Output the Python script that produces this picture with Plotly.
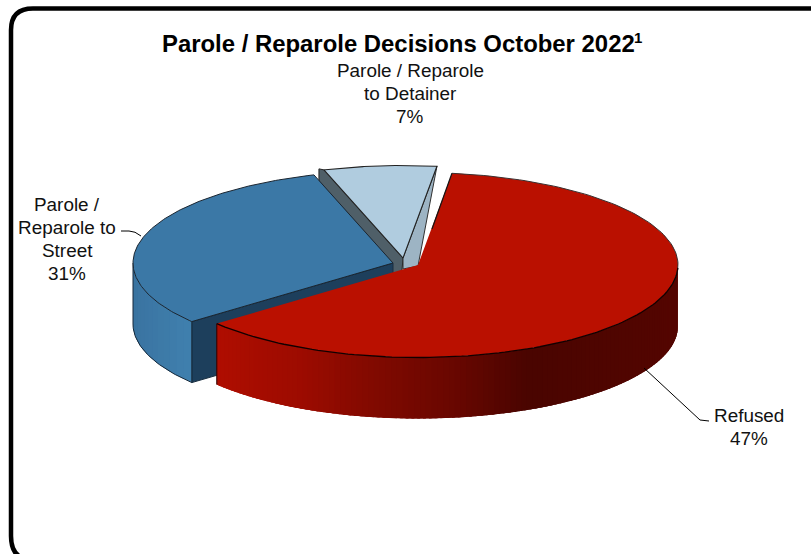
import numpy as np
import plotly.graph_objects as go

# ---- data ----
categories = ["Refused", "Parole / Reparole to Street", "Parole / Reparole to Detainer"]
slice_shares = [62, 31, 7]          # drawn share of the pie
label_percents = [47, 31, 7]        # printed percentage
TITLE = "Parole / Reparole Decisions October 2022"
FOOTNOTE_MARK = "1"

# ---- pie geometry ----
W, H = 811, 554
START = 7.5
AX, BY, DEPTH = 260, 92.5, 61
APEX = [(418, 265), (393, 263), (403, 258)]
FACE = ["#BA1000", "#3B78A6", "#B0CCDF"]
FONT = "Liberation Sans, Arial, sans-serif"

shares = np.array(slice_shares, dtype=float)
edges = START + np.concatenate([[0], np.cumsum(shares)]) / shares.sum() * 360


def rim(i, deg):
    t = np.radians(deg)
    return APEX[i][0] + AX * np.sin(t), APEX[i][1] - BY * np.cos(t)


def lerp_color(x, stops):
    xs = [s[0] for s in stops]
    c = [np.interp(x, xs, [s[1][k] for s in stops]) for k in range(3)]
    return "rgb(%d,%d,%d)" % tuple(int(v) for v in c)


fig = go.Figure()


def poly(xs, ys, fill, line=None, width=1):
    fig.add_trace(go.Scatter(
        x=list(xs), y=list(ys), mode="lines", fill="toself", fillcolor=fill,
        line=dict(color=line or fill, width=width if line else 0),
        hoverinfo="skip", showlegend=False))


def stroke(xs, ys, color="#151515", width=1.1):
    fig.add_trace(go.Scatter(x=list(xs), y=list(ys), mode="lines",
                             line=dict(color=color, width=width),
                             hoverinfo="skip", showlegend=False))


def side(i, a, b, stops, n):
    # strips painted from a to b (a<b), each running on under the next to hide seams
    ds = np.linspace(a, b, n + 1)
    step = ds[1] - ds[0]
    for d0 in ds[:-1]:
        sub = np.linspace(d0, min(d0 + 2.5 * step, b), 6)
        x, y = rim(i, sub)
        poly(np.r_[x, x[::-1], x[0]], np.r_[y, y[::-1] + DEPTH, y[0]],
             lerp_color(x[0], stops))


def face_xy(i, a, b):
    x, y = rim(i, np.linspace(a, b, 160))
    ax, ay = APEX[i]
    return np.r_[ax, x, ax], np.r_[ay, y, ay]


# --- light slice (back) ---
lx, ly = rim(2, edges[2])
rx, ry = rim(2, edges[3] % 360)
ax, ay = APEX[2]
poly([lx, lx - 5, lx - 5, ax - 5, ax, lx], [ly, ly - 1, ly + DEPTH, ay + DEPTH, ay, ly], "#4F5F68", "#222222", 1)
poly([rx, ax, ax, ax + 15, rx], [ry, ay, ay + 11, ay + 8, ry], "#9DB4C4", "#303030", 1)
fx, fy = face_xy(2, edges[2], edges[3])
poly(fx, fy, FACE[2], "#222222", 1.1)

# --- blue slice ---
bx, by = rim(1, edges[1])
ax, ay = APEX[1]
poly([ax, bx, bx, ax, ax], [ay, by, by + DEPTH, ay + DEPTH, ay], "#1D3F5C", "#1a2f40", 1)
side(1, edges[1], 270, [(130, (58, 115, 160)), (192, (64, 128, 174))], 14)
tx, ty = rim(1, np.linspace(edges[1], 270, 40))
stroke([bx, bx], [by, by + DEPTH], "#16293a", 1)
stroke(tx, ty + DEPTH, "#16293a", 1)
stroke([tx[-1], tx[-1]], [ty[-1], ty[-1] + DEPTH], "#16293a", 1)
fx, fy = face_xy(1, edges[1], edges[2])
poly(fx, fy, FACE[1], "#1a2530", 1)

# --- red slice (front) ---
red_stops = [(216, (176, 14, 0)), (300, (158, 12, 0)), (380, (128, 10, 0)),
             (460, (104, 7, 0)), (530, (74, 5, 0)), (677, (84, 6, 0))]
side(0, 90, edges[1], red_stops, 110)
ex, ey = rim(0, edges[1])
stroke([ex, ex], [ey, ey + DEPTH], "#2a0200", 1)
fx, fy = face_xy(0, edges[0], edges[1])
poly(fx, fy, FACE[0])
arc_x, arc_y = rim(0, np.linspace(edges[0], edges[1], 160))
stroke(arc_x[:70], arc_y[:70], "#3a3030", 1)
stroke(arc_x[60:], arc_y[60:], "#120000", 1.3)
sx, sy = rim(0, edges[0])
stroke([sx, APEX[0][0] + 14], [sy, APEX[0][1] - 36], "#151515", 1.2)

# --- labels, one annotation per line for the tight line spacing ---
label_pos = [(749, 415), (67, 204), (410, 70)]
label_lines = [["Refused"], ["Parole /", "Reparole to", "Street"], ["Parole / Reparole", "to Detainer"]]
LEAD = 23
for (x, y), lines, pct in zip(label_pos, label_lines, label_percents):
    for k, txt in enumerate(lines + [f"{pct}%"]):
        fig.add_annotation(x=x, y=y + k * LEAD, xref="x", yref="y", showarrow=False,
                           xanchor="center", yanchor="middle", text=txt,
                           font=dict(family=FONT, size=18.9, color="#111111"))

fig.add_annotation(x=160, y=43, xref="x", yref="y", showarrow=False, text=TITLE,
                   xanchor="left", yanchor="middle",
                   font=dict(family=FONT, size=23.9, color="#000000", weight="bold"))
fig.add_annotation(x=632, y=37, xref="x", yref="y", showarrow=False, text=FOOTNOTE_MARK,
                   xanchor="left", yanchor="middle",
                   font=dict(family=FONT, size=15, color="#000000", weight="bold"))

shapes = [
    dict(type="path", path="M 840 8.5 L 33 8.5 Q 11 8.5 11 30 L 11 536 Q 11 560 33 560 L 840 560 Z",
         line=dict(color="#000000", width=4.5), xref="x", yref="y", layer="below"),
    dict(type="path", path="M 644 368 L 700 420 L 709 421", line=dict(color="#000000", width=1), xref="x", yref="y"),
    dict(type="path", path="M 141 236 Q 135 231 129 231 L 121 231", line=dict(color="#000000", width=1), xref="x", yref="y"),
]
fig.update_layout(
    width=W, height=H, margin=dict(l=0, r=0, t=0, b=0), autosize=False,
    paper_bgcolor="white", plot_bgcolor="white", showlegend=False, shapes=shapes,
    xaxis=dict(range=[0, W], visible=False, fixedrange=True),
    yaxis=dict(range=[H, 0], visible=False, fixedrange=True),
)
fig.write_html("out.html", config=dict(displayModeBar=False),
               post_script="document.body.style.margin='0';document.documentElement.style.overflow='hidden';")
